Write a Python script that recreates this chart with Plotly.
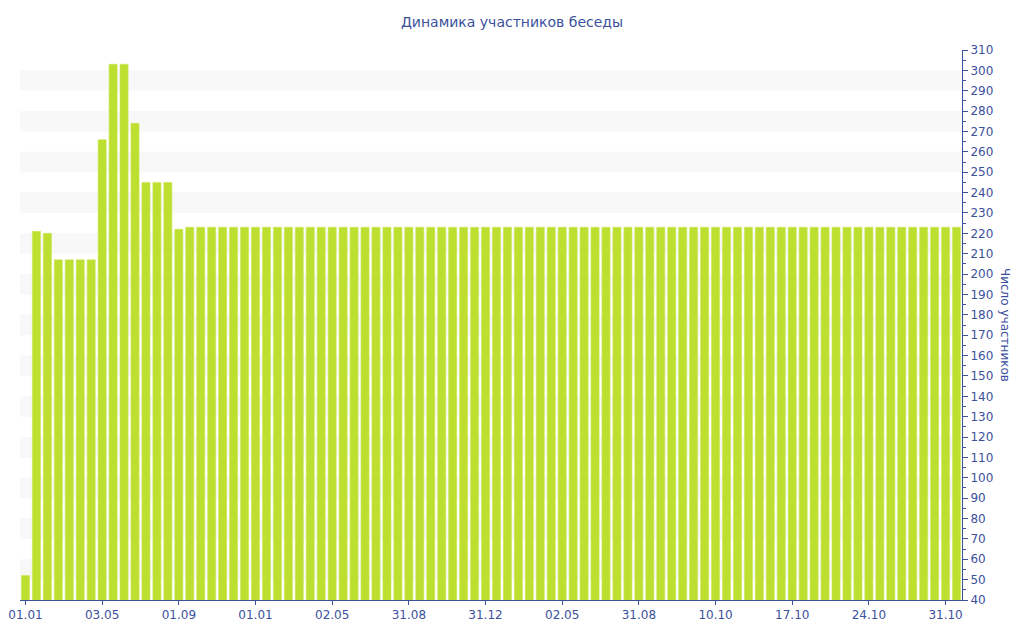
import plotly.graph_objects as go

# Data
values = [52, 221, 220, 207, 207, 207, 207, 266, 303, 303, 274, 245, 245, 245, 222] + [223] * 71
tick_labels = ["01.01", "03.05", "01.09", "01.01", "02.05", "31.08", "31.12",
               "02.05", "31.08", "10.10", "17.10", "24.10", "31.10"]
tick_step = 7

x = list(range(len(values)))
text_color = "#3b519c"
font_family = "DejaVu Sans, Verdana, sans-serif"

fig = go.Figure()
fig.add_trace(go.Bar(
    x=x, y=values,
    marker=dict(color="#bddf2f", line=dict(color="#cbe85a", width=0.6)),
    width=0.74,
    hoverinfo="y",
))

shapes = []
for lo in range(50, 300, 20):
    shapes.append(dict(type="rect", xref="paper", yref="y", x0=0, x1=1, y0=lo, y1=lo + 10,
                       fillcolor="#f8f8f8", line=dict(width=0), layer="below"))

fig.update_layout(
    width=1024, height=640,
    margin=dict(l=20, r=62, t=50, b=40, autoexpand=False),
    paper_bgcolor="white", plot_bgcolor="white",
    font=dict(family=font_family, color=text_color, size=12),
    title=dict(text="Динамика участников беседы", x=0.5, xanchor="center",
               yref="container", y=1 - 22 / 640, yanchor="middle",
               font=dict(size=14, color=text_color, family=font_family)),
    shapes=shapes,
    bargap=0.26,
    showlegend=False,
    xaxis=dict(
        automargin=False,
        range=[-0.5, len(values) - 0.5],
        tickmode="array",
        tickvals=[i * tick_step for i in range(len(tick_labels))],
        ticktext=tick_labels,
        ticks="outside", ticklen=4, tickcolor=text_color,
        showline=True, linecolor=text_color, linewidth=1,
        showgrid=False, zeroline=False,
        tickfont=dict(size=12, color=text_color),
    ),
    yaxis=dict(
        automargin=False,
        side="right",
        range=[40, 310],
        dtick=10, tick0=40,
        ticks="outside", ticklen=5, tickcolor=text_color,
        minor=dict(dtick=5, ticks="outside", ticklen=3, tickcolor=text_color, showgrid=False),
        showline=True, linecolor=text_color, linewidth=1,
        showgrid=False, zeroline=False,
        tickfont=dict(size=12, color=text_color),
    ),
    annotations=[dict(text="Число участников", xref="paper", yref="paper",
                      x=1.0, xshift=43, xanchor="center", y=0.5, yanchor="middle",
                      textangle=90, showarrow=False,
                      font=dict(size=12, color=text_color, family=font_family))],
)

fig.write_html("out.html", config={"displayModeBar": False},
               post_script="document.body.style.margin='0';")
